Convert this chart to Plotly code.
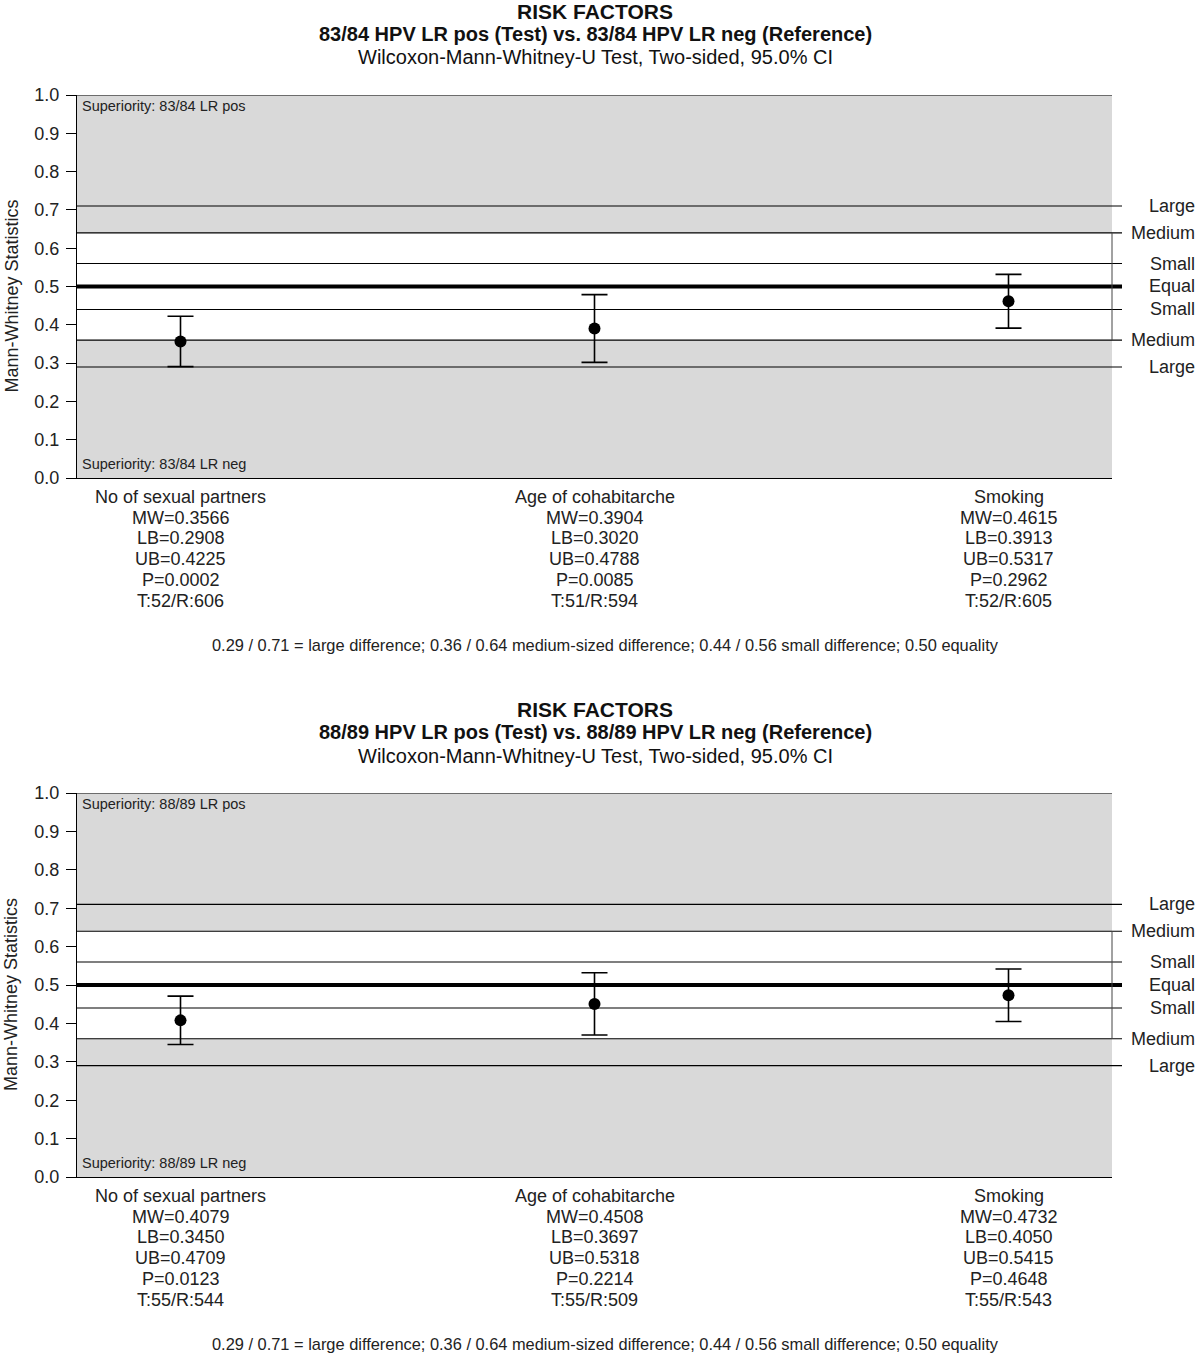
import plotly.graph_objects as go

W, H = 1200, 1355
FONT = "Liberation Sans, Arial, sans-serif"

categories = ["No of sexual partners", "Age of cohabitarche", "Smoking"]

# Panel 1
p1_mw = [0.3566, 0.3904, 0.4615]
p1_lb = [0.2908, 0.3020, 0.3913]
p1_ub = [0.4225, 0.4788, 0.5317]
p1_p = ["0.0002", "0.0085", "0.2962"]
p1_tr = ["T:52/R:606", "T:51/R:594", "T:52/R:605"]
p1_titles = ["RISK FACTORS",
             "83/84 HPV LR pos (Test) vs. 83/84 HPV LR neg (Reference)",
             "Wilcoxon-Mann-Whitney-U Test, Two-sided, 95.0% CI"]
p1_sup = ["Superiority: 83/84 LR pos", "Superiority: 83/84 LR neg"]

# Panel 2
p2_mw = [0.4079, 0.4508, 0.4732]
p2_lb = [0.3450, 0.3697, 0.4050]
p2_ub = [0.4709, 0.5318, 0.5415]
p2_p = ["0.0123", "0.2214", "0.4648"]
p2_tr = ["T:55/R:544", "T:55/R:509", "T:55/R:543"]
p2_titles = ["RISK FACTORS",
             "88/89 HPV LR pos (Test) vs. 88/89 HPV LR neg (Reference)",
             "Wilcoxon-Mann-Whitney-U Test, Two-sided, 95.0% CI"]
p2_sup = ["Superiority: 88/89 LR pos", "Superiority: 88/89 LR neg"]

levels = [0.71, 0.64, 0.56, 0.50, 0.44, 0.36, 0.29]
level_labels = ["Large", "Medium", "Small", "Equal", "Small", "Medium", "Large"]
gray_bands = [(0.0, 0.36), (0.64, 1.0)]
footnote = ("0.29 / 0.71 = large difference; 0.36 / 0.64 medium-sized difference; "
            "0.44 / 0.56 small difference; 0.50 equality")


def px(x):
    return x / W


def py(y):
    return 1 - y / H


X0, X1 = 77, 1112
panels = [
    dict(mw=p1_mw, lb=p1_lb, ub=p1_ub, p=p1_p, tr=p1_tr, titles=p1_titles, sup=p1_sup,
         top=95, bot=478, title_y=[11, 34, 57], cat_y=497, foot_y=645, ax=""),
    dict(mw=p2_mw, lb=p2_lb, ub=p2_ub, p=p2_p, tr=p2_tr, titles=p2_titles, sup=p2_sup,
         top=793, bot=1177, title_y=[709, 732, 756], cat_y=1196, foot_y=1344, ax="2"),
]

fig = go.Figure()
shapes = []
annotations = []
layout = {}

for pnl in panels:
    ax = pnl["ax"]
    xref = "x" + ax
    yref = "y" + ax
    xs = list(range(len(categories)))
    fig.add_trace(go.Scatter(
        x=xs, y=pnl["mw"], mode="markers", xaxis=xref, yaxis=yref,
        marker=dict(size=12, color="black"),
        error_y=dict(type="data", symmetric=False,
                     array=[u - m for u, m in zip(pnl["ub"], pnl["mw"])],
                     arrayminus=[m - l for m, l in zip(pnl["mw"], pnl["lb"])],
                     color="black", thickness=1.6, width=13),
        showlegend=False, cliponaxis=False))

    layout["xaxis" + ax] = dict(domain=[px(X0), px(X1)], range=[-0.25, 2.25],
                                showticklabels=False, ticks="", showgrid=False,
                                zeroline=False, showline=True, linecolor="black",
                                linewidth=1.2, anchor=yref, fixedrange=True,
                                automargin=False)
    layout["yaxis" + ax] = dict(domain=[py(pnl["bot"]), py(pnl["top"])], range=[0, 1],
                                tickmode="linear", tick0=0, dtick=0.1, tickformat=".1f",
                                ticks="outside", ticklen=10, tickcolor="black",
                                tickwidth=1, showgrid=False, zeroline=False,
                                showline=True, linecolor="black", linewidth=1.2,
                                ticklabelstandoff=3, automargin=False,
                                tickfont=dict(family=FONT, size=18, color="#222"),
                                anchor=xref, fixedrange=True)

    # y axis title
    annotations.append(dict(text="Mann-Whitney Statistics", xref="paper", yref="paper",
                            x=px(11), y=py((pnl["top"] + pnl["bot"]) / 2 + 10),
                            xanchor="center", yanchor="middle", textangle=-90,
                            showarrow=False, font=dict(family=FONT, size=18, color="#222")))

    # gray bands
    for lo, hi in gray_bands:
        shapes.append(dict(type="rect", xref="paper", yref=yref,
                           x0=px(X0), x1=px(X1), y0=lo, y1=hi,
                           fillcolor="#d9d9d9", line=dict(width=0), layer="below"))
    # top frame line
    shapes.append(dict(type="line", xref="paper", yref=yref, x0=px(X0), x1=px(X1),
                       y0=1, y1=1, line=dict(color="black", width=1.2)))
    # level lines
    for lv in levels:
        shapes.append(dict(type="line", xref="paper", yref=yref, x0=px(X0), x1=px(X1 + 10),
                           y0=lv, y1=lv,
                           line=dict(color="black", width=4 if lv == 0.5 else 1.1)))
    # medium bracket
    shapes.append(dict(type="line", xref="paper", yref=yref, x0=px(X1), x1=px(X1),
                       y0=levels[5], y1=levels[1], line=dict(color="#444", width=1)))
    for lv, lab in zip(levels, level_labels):
        annotations.append(dict(text=lab, xref="paper", yref=yref, x=px(1197), y=lv,
                                xanchor="right", yanchor="middle", showarrow=False,
                                font=dict(family=FONT, size=18, color="#222")))
    # superiority
    annotations.append(dict(text=pnl["sup"][0], xref="paper", yref="paper",
                            x=px(X0 + 3), y=py(pnl["top"] + 11), xanchor="left",
                            yanchor="middle", showarrow=False,
                            font=dict(family=FONT, size=14.5, color="#222")))
    annotations.append(dict(text=pnl["sup"][1], xref="paper", yref="paper",
                            x=px(X0 + 3), y=py(pnl["bot"] - 14), xanchor="left",
                            yanchor="middle", showarrow=False,
                            font=dict(family=FONT, size=14.5, color="#222")))
    # titles
    title_sizes = [21, 20, 20]
    for i, (t, ty) in enumerate(zip(pnl["titles"], pnl["title_y"])):
        annotations.append(dict(text=f"<b>{t}</b>" if i < 2 else t, xref="paper",
                                yref="paper", x=px(595), y=py(ty), xanchor="center",
                                yanchor="middle", showarrow=False,
                                font=dict(family=FONT, size=title_sizes[i],
                                          color="#111")))
    # category texts (one annotation per line)
    for i, c in enumerate(categories):
        lines = [c, f"MW={pnl['mw'][i]:.4f}", f"LB={pnl['lb'][i]:.4f}",
                 f"UB={pnl['ub'][i]:.4f}", f"P={pnl['p'][i]}", pnl["tr"][i]]
        for k, ln in enumerate(lines):
            annotations.append(dict(text=ln, xref=xref, yref="paper", x=i,
                                    y=py(pnl["cat_y"] + k * 20.7), xanchor="center",
                                    yanchor="middle", showarrow=False,
                                    font=dict(family=FONT, size=18, color="#222")))
    annotations.append(dict(text=footnote, xref="paper", yref="paper", x=px(605),
                            y=py(pnl["foot_y"]), xanchor="center", yanchor="middle",
                            showarrow=False, font=dict(family=FONT, size=16.4, color="#222")))

fig.update_layout(width=W, height=H, margin=dict(l=0, r=0, t=0, b=0, autoexpand=False),
                  paper_bgcolor="white", plot_bgcolor="white",
                  shapes=shapes, annotations=annotations, **layout)

fig.write_html("out.html",
               config={"displayModeBar": False},
               post_script="document.body.style.margin='0';"
                           "document.body.style.overflow='hidden';"
                           "document.documentElement.style.overflow='hidden';")
